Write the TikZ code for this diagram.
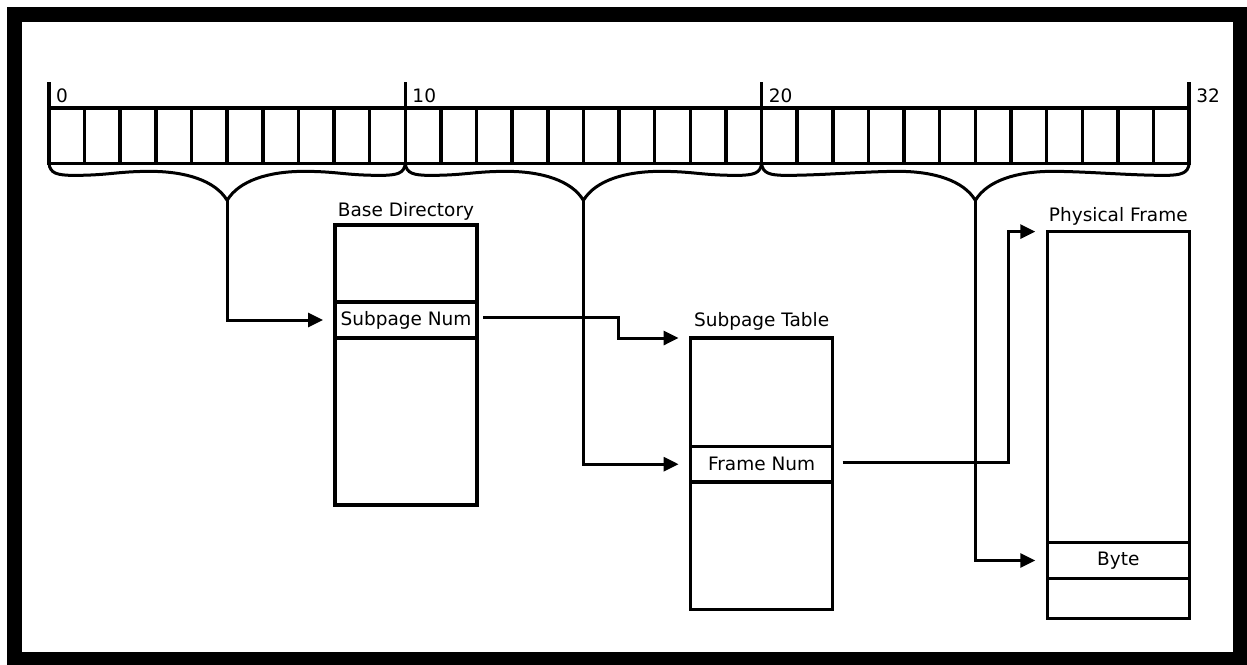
\documentclass[tikz,border=0pt]{standalone}
\usepackage{fontspec}
\setmainfont{DejaVu Sans}
\usepackage{tikz}
\usetikzlibrary{positioning,arrows.meta,calc}

\begin{document}
\begin{tikzpicture}[x=1pt, y=-1pt, font=\fontsize{18.5}{22}\selectfont]
    \tikzstyle{bitcell}=[draw, line width=3.5pt, minimum width=35.63pt,
                         minimum height=55.3pt, inner sep=0pt, outer sep=0pt]
    \tikzstyle{bitnum}=[anchor=base west, inner sep=0pt]
    \tikzstyle{bittick}=[line width=3.5pt]
    \tikzstyle{bitbrace}=[line width=3pt]
    \tikzstyle{tablebox}=[draw, line width=3.5pt, minimum width=142pt,
                          inner sep=0pt, outer sep=0pt]
    \tikzstyle{entrybox}=[tablebox, minimum height=35.6pt]
    \tikzstyle{tabletitle}=[inner sep=0pt]
    \tikzstyle{connector}=[line width=3pt, -{Triangle[length=15pt,width=14pt]},
                           shorten >=12pt]

    \useasboundingbox (0,0) rectangle (1247,664);
    \draw[line width=15pt] (14.5,14.5) rectangle (1240.5,659.5);

    % 32-bit address
    \foreach \i in {0,...,31}
        \node[bitcell] (b\i) at ({66.8+35.63*\i},135.7) {};
    \foreach \c/\n in {b0.north west/0, b10.north west/10,
                       b20.north west/20, b31.north east/32} {
        \draw[bittick] (\c) -- ++(0,-26);
        \node[bitnum] (n\n) at ($(\c)+(7,-6)$) {\n};
    }

    % braces over the three fields
    \foreach \l/\r/\t in {b0/b9/tipA, b10/b19/tipB, b20/b31/tipC} {
        \coordinate (bl) at (\l.south west);
        \coordinate (br) at (\r.south east);
        \coordinate (\t) at ($(bl)!.5!(br)+(0,37)$);
        \draw[bitbrace] (bl)
            .. controls ($(bl)+(1,10)$) and ($(bl)+(8,12)$) .. ($(bl)+(25,12)$)
            .. controls ($(bl)+(60,12)$) and ($(\t)+(-110,-29)$) .. ($(\t)+(-77,-29)$)
            .. controls ($(\t)+(-42,-29)$) and ($(\t)+(-12,-20)$) .. (\t)
            .. controls ($(\t)+(12,-20)$) and ($(\t)+(42,-29)$) .. ($(\t)+(77,-29)$)
            .. controls ($(\t)+(110,-29)$) and ($(br)+(-60,12)$) .. ($(br)+(-25,12)$)
            .. controls ($(br)+(-8,12)$) and ($(br)+(-1,10)$) .. (br);
    }

    % tables
    \node[tablebox, minimum height=280pt] (bdir) at (406,365) {};
    \node[entrybox] (subnum) at (406,320) {Subpage Num};
    \node[tabletitle, above=4pt of bdir] (bdirt) {Base Directory};

    \node[tablebox, minimum height=271.5pt] (sptab) at (761.6,473.75) {};
    \node[entrybox] (framenum) at (761.6,464.2) {Frame Num};
    \node[tabletitle, above=7.5pt of sptab] (sptabt) {Subpage Table};

    \node[tablebox, minimum height=386.8pt] (pframe) at (1118.3,425) {};
    \node[entrybox] (byte) at (1118.3,560.5) {Byte};
    \node[tabletitle, above=6.5pt of pframe] (pframet) {Physical Frame};

    % lookups
    \draw[connector] (tipA) |- (subnum.west);
    \draw[connector] (tipB) |- (framenum.west);
    \draw[connector] (tipC) |- (byte.west);
    \draw[connector] ([shift={(6,-3)}]subnum.east) -- ++(135,0) |- (sptab.north west);
    \draw[connector] ([shift={(10,-2)}]framenum.east) -- ++(166,0) |- (pframe.north west);
\end{tikzpicture}
\end{document}
